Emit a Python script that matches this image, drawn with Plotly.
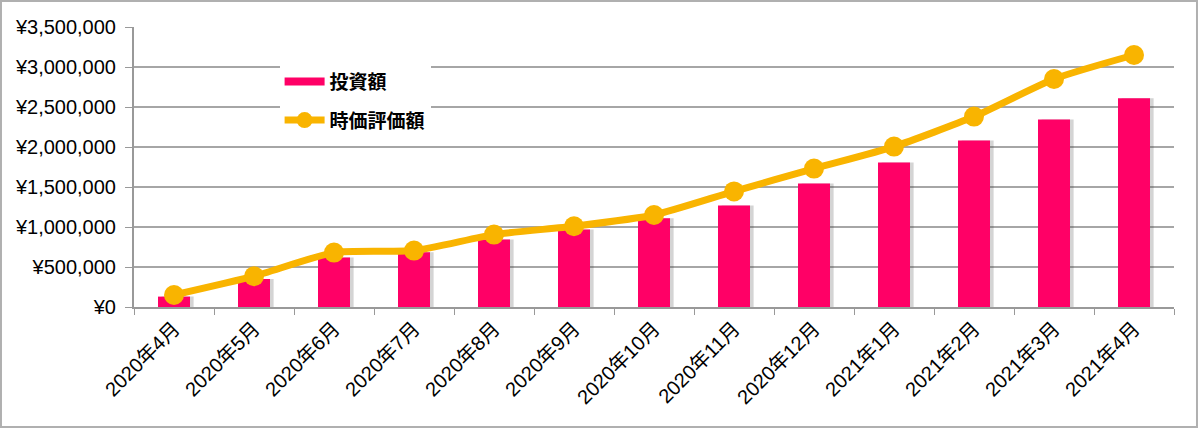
import plotly.graph_objects as go

months = ["2020年4月", "2020年5月", "2020年6月", "2020年7月", "2020年8月", "2020年9月",
          "2020年10月", "2020年11月", "2020年12月", "2021年1月", "2021年2月", "2021年3月",
          "2021年4月"]
invested = [130000, 350000, 620000, 685000, 845000, 970000, 1110000, 1270000,
            1545000, 1805000, 2080000, 2345000, 2610000]
market_value = [150000, 385000, 680000, 705000, 905000, 1010000, 1150000, 1445000,
                1730000, 2005000, 2380000, 2850000, 3150000]

font_main = "Liberation Sans, Arial, Noto Sans CJK JP, sans-serif"
PINK = "#FF0066"
GOLD = "#F9B400"

fig = go.Figure()

# soft drop shadow to the right of each bar
fig.add_trace(go.Bar(
    x=months, y=invested, showlegend=False,
    marker=dict(color="rgba(60,60,60,0.22)", line=dict(width=0)),
    width=0.4, offset=-0.2 + 0.045,
))
fig.add_trace(go.Bar(
    x=months, y=invested, name="投資額", showlegend=False,
    marker=dict(color=PINK, line=dict(width=0)),
    width=0.4, offset=-0.2,
))
# legend entry drawn as a wide flat swatch like the original
fig.add_trace(go.Scatter(
    x=[None], y=[None], name="投資額", legendgroup="a", mode="lines",
    line=dict(color=PINK, width=8),
))

fig.add_trace(go.Scatter(
    x=months, y=market_value, name="時価評価額", legendgroup="b",
    mode="lines+markers",
    line=dict(color=GOLD, width=7, shape="spline", smoothing=0.6),
    marker=dict(color=GOLD, size=20),
))

# outer chart border
fig.add_shape(type="rect", xref="paper", yref="paper",
              x0=-0.1279, x1=1.0221, y0=-0.4286, y1=1.0929,
              line=dict(color="#B0B0B0", width=2), fillcolor="rgba(0,0,0,0)")

fig.update_layout(
    width=1200, height=429,
    margin=dict(l=134, r=26, t=27, b=122),
    paper_bgcolor="white", plot_bgcolor="white",
    font=dict(family=font_main, size=20, color="black"),
    barmode="overlay",
    showlegend=True,
    legend=dict(x=0.140, y=0.873, xanchor="left", yanchor="top",
                bgcolor="white", tracegroupgap=11, itemwidth=40,
                font=dict(family="Noto Sans CJK JP", size=19, color="black", weight="bold")),
    hovermode=False,
)

fig.update_xaxes(
    type="category", categoryorder="array", categoryarray=months,
    range=[-0.5, len(months) - 0.5],
    tickangle=-45, tickson="boundaries",
    ticks="outside", ticklen=6, tickcolor="#999999",
    showline=True, linecolor="#999999", linewidth=2,
    showgrid=False, automargin=False,
    tickfont=dict(family=font_main, size=20),
)

fig.update_yaxes(
    range=[0, 3500000], dtick=500000,
    tickprefix="¥", tickformat=",",
    ticks="outside", ticklen=7, tickcolor="#999999",
    showline=True, linecolor="#999999", linewidth=2,
    showgrid=True, gridcolor="#A6A6A6", gridwidth=2,
    zeroline=False, automargin=False, ticklabelstandoff=5,
    tickfont=dict(family=font_main, size=20),
)

# page has a default 8px body margin; drop it so the chart fills the window
fig.write_html("out.html", config={"displayModeBar": False},
               post_script="document.body.style.margin='0';")
